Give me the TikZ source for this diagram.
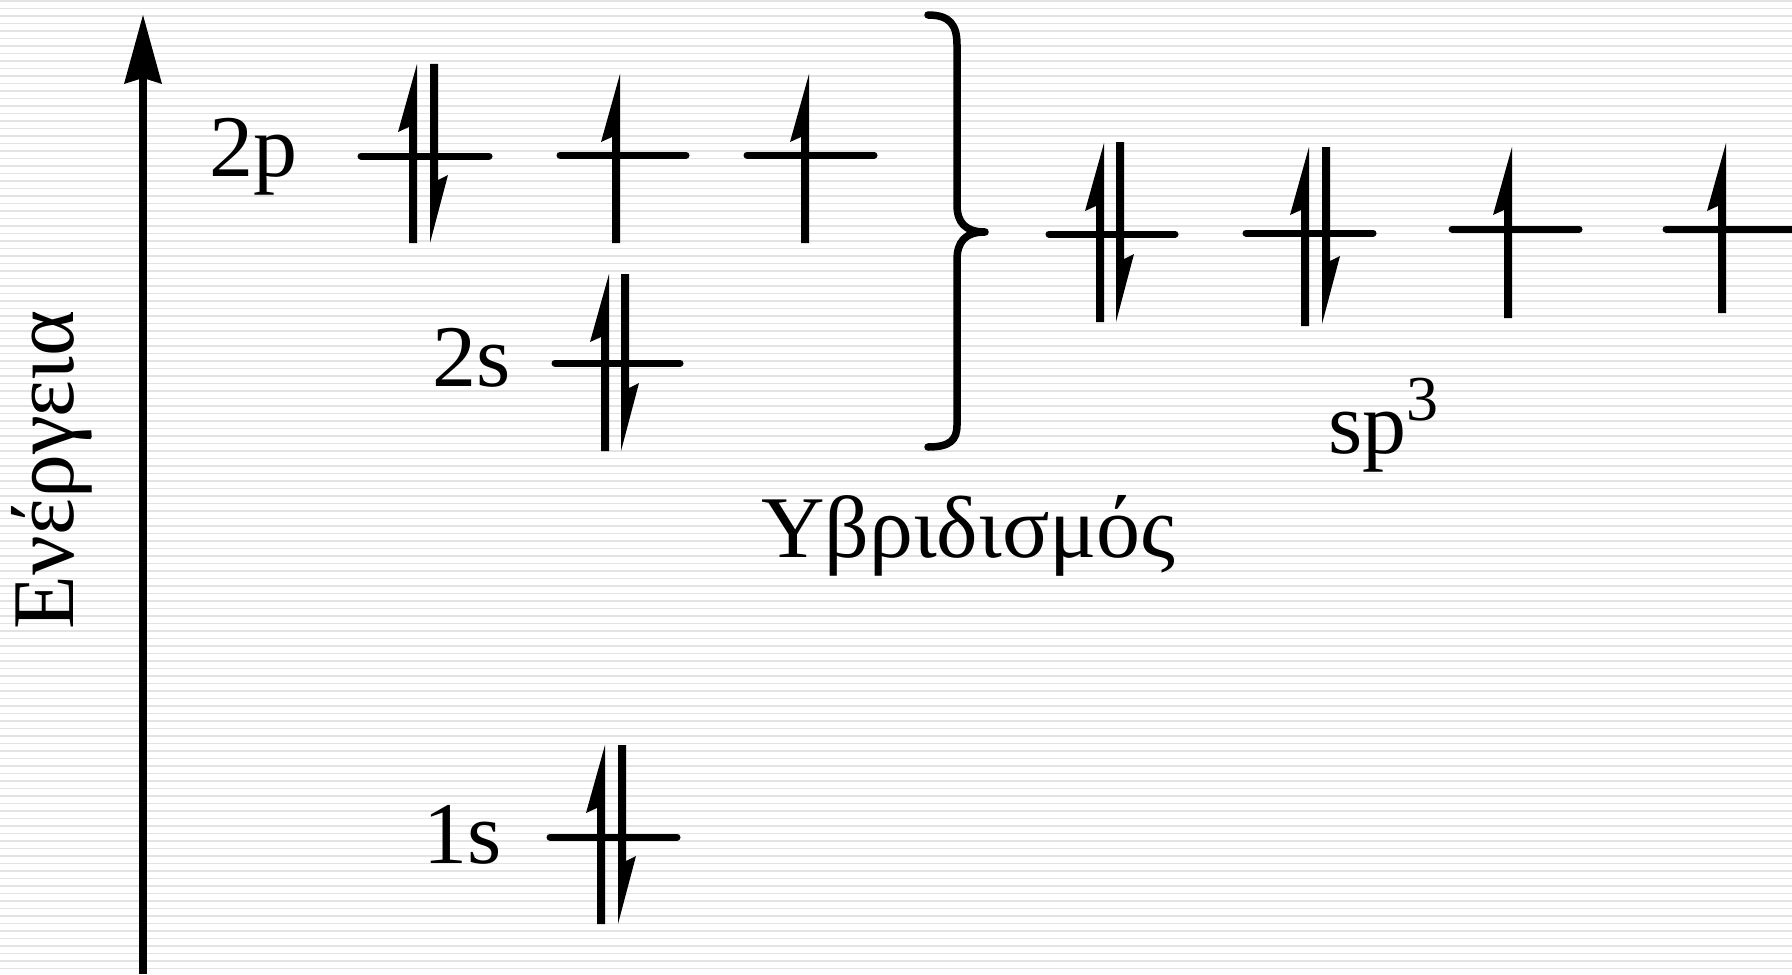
\documentclass[tikz,border=0pt]{standalone}
\usepackage{fontspec}
\setmainfont{Liberation Serif}
\newcommand\spinup[3]{\fill ({#1+4},#2) -- ({#1-15},{#2+68}) -- ({#1-4},{#2+63}) -- ({#1-4},#3) -- ({#1+4},#3) -- cycle;}
\newcommand\spindown[3]{\fill ({#1-4},#3) -- ({#1+14},{#3-68}) -- ({#1+4},{#3-63}) -- ({#1+4},#2) -- ({#1-4},#2) -- cycle;}
\newcommand\orblevel[3]{\draw[level] (#1,#3) -- (#2,#3);}
\tikzset{
  level/.style={line width=3.5pt, line cap=round},
  stripe/.style={line width=0.75pt, draw=black!11},
  lbl/.style={inner sep=0pt, outer sep=0pt, font=\fontsize{44}{50}\selectfont},
}
\begin{document}
\begin{tikzpicture}[x=0.5pt,y=-0.5pt]
\useasboundingbox (0,0) rectangle (1792,974);
\fill[white] (0,0) rectangle (1792,974);
\foreach \k in {0,...,129} \draw[stripe] (0,{1+7.5*\k}) -- (1792,{1+7.5*\k});

% energy axis
\coordinate (axisbot) at (143,974);
\coordinate (axistop) at (143,78);
\draw[line width=3.85pt] (axisbot) -- (axistop);
\fill (143,15) -- (162,84) -- (axistop) -- (124,84) -- cycle;
\node[lbl, rotate=90, anchor=base] (energy) at (73,470) {Ενέργεια};

% 2p
\node[lbl, anchor=base west] (l2p) at (209,176) {2p};
\orblevel{361}{489}{156}
\spinup{413}{64}{243}
\spindown{434}{64}{243}
\orblevel{560}{686}{155}
\spinup{616}{74}{243}
\orblevel{747}{874}{155}
\spinup{805}{74}{243}

% 2s
\node[lbl, anchor=base west] (l2s) at (432,386) {2s};
\orblevel{555}{680}{363}
\spinup{605}{274}{451}
\spindown{625}{274}{451}

% 1s
\node[lbl, anchor=base west] (l1s) at (423,863) {1s};
\orblevel{550}{677}{837}
\spinup{601}{745}{924}
\spindown{622}{745}{924}

% brace
\draw[line width=3.75pt, line cap=round, line join=round]
  (928,15) .. controls (950,15) and (957,25) .. (957,45) -- (957,205)
  .. controls (957,222) and (965,232) .. (985,232)
  .. controls (965,232) and (957,242) .. (957,260) -- (957,425)
  .. controls (957,440) and (950,447) .. (928,447);

% sp3
\orblevel{1049}{1175}{234}
\spinup{1100}{143}{322}
\spindown{1120}{142}{322}
\orblevel{1246}{1373}{233}
\spinup{1305}{147}{326}
\spindown{1326}{147}{324}
\orblevel{1452}{1579}{229}
\spinup{1508}{147}{318}
\orblevel{1666}{1800}{229}
\spinup{1722}{143}{313}

\node[lbl, anchor=base west] (lsp) at (1328,453) {sp\raisebox{16.5pt}{\fontsize{32}{32}\selectfont 3}};
\node[lbl, anchor=base west] (hyb) at (761,557) {Υβριδισμός};
\end{tikzpicture}
\end{document}
